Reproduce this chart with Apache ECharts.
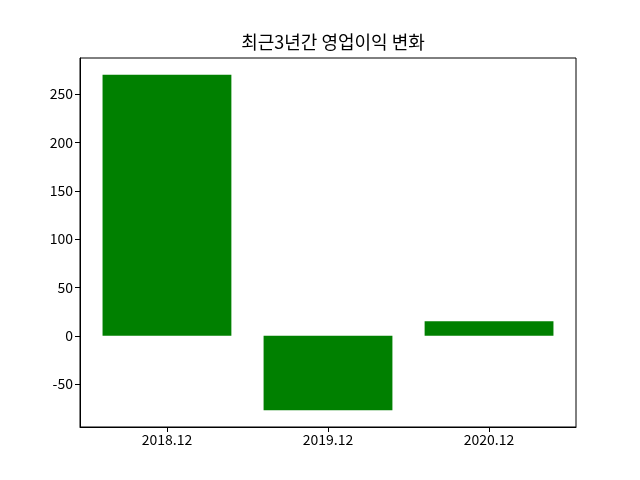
<!DOCTYPE html>
<html>
<head>
<meta charset="utf-8">
<script src="https://cdn.jsdelivr.net/npm/echarts@6/dist/echarts.min.js"></script>
<style>html,body{margin:0;padding:0;background:#fff}#c{width:640px;height:480px}</style>
</head>
<body>
<div id="c"></div>
<script>
var categories = ['2018.12', '2019.12', '2020.12'];
var values = [270, -77, 15];
var yTicks = [-50, 0, 50, 100, 150, 200, 250];
var titleText = '최근3년간 영업이익 변화';

var font = '"Noto Sans CJK KR", "Noto Sans", sans-serif';
var chart = echarts.init(document.getElementById('c'), null, {renderer: 'canvas'});
var xIdx = categories.map(function (c, i) { return i; });
var yMin = Math.min.apply(null, values.concat([0]));
var yMax = Math.max.apply(null, values.concat([0]));
var yPad = (yMax - yMin) * 0.05;
var xPad = (categories.length - 1 + 0.8) * 0.05;
var plotW = 640 - 80 - 64;
var xSpan = (categories.length - 1 + 0.8) + 2 * xPad;

chart.setOption({
  animation: false,
  backgroundColor: '#fff',
  title: {
    text: titleText,
    left: 328,
    textAlign: 'center',
    top: 28,
    textStyle: {fontFamily: font, fontSize: 18, fontWeight: 'normal', color: '#000'}
  },
  grid: {left: 80, right: 64, top: 58, bottom: 53, show: true, borderColor: '#000', borderWidth: 1, backgroundColor: 'transparent'},
  xAxis: {
    type: 'value',
    min: -0.4 - xPad,
    max: categories.length - 1 + 0.4 + xPad,
    splitLine: {show: false},
    axisLine: {show: true, onZero: false, lineStyle: {color: '#000', width: 1}},
    axisTick: {show: true, length: 5, lineStyle: {color: '#000'}, customValues: xIdx},
    axisLabel: {
      customValues: xIdx,
      margin: 6,
      color: '#000',
      fontFamily: font,
      fontSize: 14,
      formatter: function (v) { return categories[Math.round(v)] || ''; }
    }
  },
  yAxis: {
    type: 'value',
    min: yMin - yPad,
    max: yMax + yPad,
    splitLine: {show: false},
    axisLine: {show: true, onZero: false, lineStyle: {color: '#000', width: 1}},
    axisTick: {show: true, length: 5, lineStyle: {color: '#000'}, customValues: yTicks},
    axisLabel: {
      customValues: yTicks,
      margin: 7,
      color: '#000',
      fontFamily: font,
      fontSize: 14
    }
  },
  series: [{
    type: 'bar',
    barWidth: 0.8 * plotW / xSpan,
    itemStyle: {color: '#008000'},
    data: values.map(function (v, i) { return [i, v]; })
  }]
});
</script>
</body>
</html>
